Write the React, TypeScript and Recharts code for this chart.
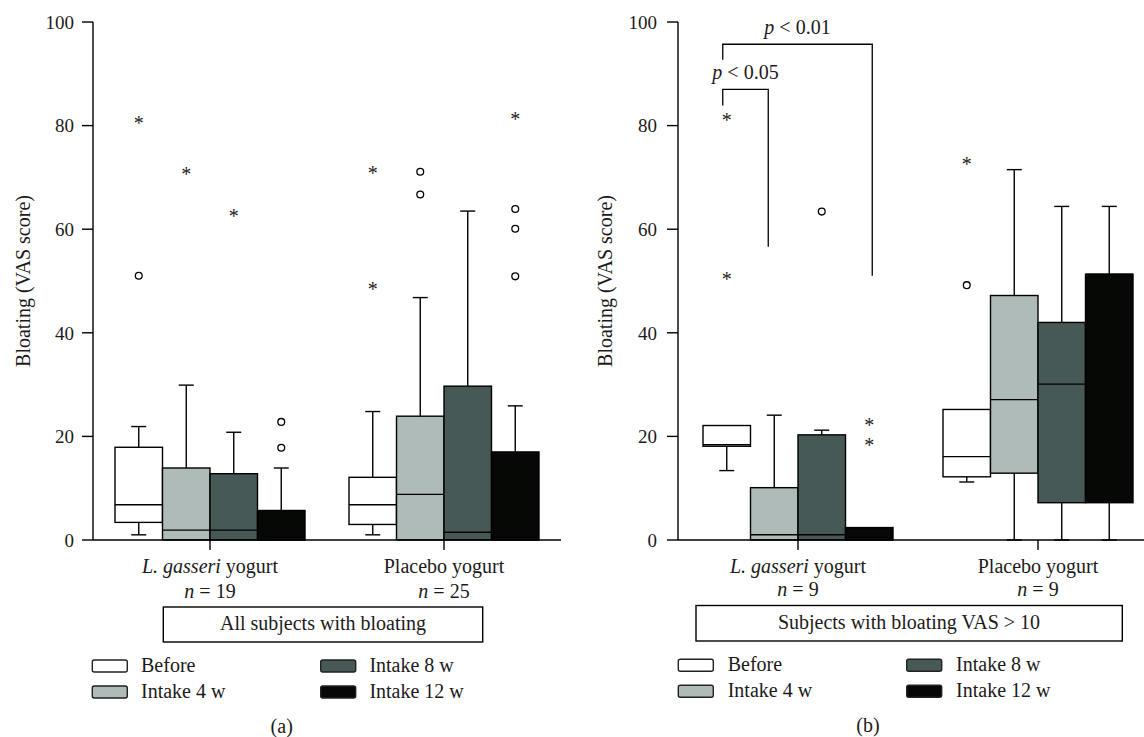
import React from "react";
import { ComposedChart, Bar, XAxis, YAxis } from "recharts";

const FONT = '"Liberation Serif", "Times New Roman", serif';
const INK = "#1c1a1a";

// series shared by both panels
const seriesNames = ["Before", "Intake 4 w", "Intake 8 w", "Intake 12 w"];
const seriesColors = ["#ffffff", "#aebbb9", "#465957", "#050805"];
const yTicks = [0, 20, 40, 60, 80, 100];

// panel (a): all subjects with bloating
const groupsA = ["L. gasseri yogurt", "Placebo yogurt"];
const countsA = [19, 25];
// [series][group] = [whisker low, Q1, median, Q3, whisker high]
const statsA = [
  [[1, 3.4, 6.8, 17.9, 21.9], [1, 3, 6.8, 12.1, 24.8]],
  [[0, 0, 1.9, 13.9, 29.9], [0, 0, 8.8, 23.9, 46.8]],
  [[0, 0, 1.9, 12.8, 20.8], [0, 0, 1.5, 29.7, 63.5]],
  [[0, 0, 0, 5.7, 13.9], [0, 0, 0, 17, 25.9]],
];
const circlesA = [
  [[51], []],
  [[], [71.1, 66.7]],
  [[], []],
  [[22.8, 17.8], [63.9, 60.1, 50.9]],
];
const starsA = [
  [[81], [71.5, 49.1]],
  [[71.3], []],
  [[63.1], []],
  [[], [81.9]],
];

// panel (b): subjects with bloating VAS > 10
const groupsB = ["L. gasseri yogurt", "Placebo yogurt"];
const countsB = [9, 9];
const statsB = [
  [[13.4, 18.1, 18.4, 22.1, 22.1], [11.2, 12.2, 16.1, 25.2, 25.2]],
  [[0, 0, 1.0, 10.1, 24.1], [0, 12.9, 27.1, 47.2, 71.5]],
  [[0, 0, 1.0, 20.3, 21.2], [0, 7.2, 30.1, 42, 64.4]],
  [[0, 0, 0, 2.4, 2.4], [0, 7.2, 51.3, 51.3, 64.4]],
];
const circlesB = [
  [[], [49.2]],
  [[], []],
  [[63.4], []],
  [[], []],
];
const starsB = [
  [[81.7, 51], [73.1]],
  [[], []],
  [[], []],
  [[22.8, 19], []],
];
// significance brackets: group, from series, to series, bar level, left/right leg ends
const bracketsB = [
  { group: 0, from: 0, to: 1, level: 87, leftEnd: 83.9, rightEnd: 56.6, label: "0.05" },
  { group: 0, from: 0, to: 3, level: 95.7, leftEnd: 92.7, rightEnd: 51, label: "0.01" },
];

type Bracket = typeof bracketsB[number];
type Panel = {
  groups: string[];
  counts: number[];
  stats: number[][][];
  circles: number[][][];
  stars: number[][][];
  brackets: Bracket[];
};

const panelA: Panel = { groups: groupsA, counts: countsA, stats: statsA, circles: circlesA, stars: starsA, brackets: [] };
const panelB: Panel = { groups: groupsB, counts: countsB, stats: statsB, circles: circlesB, stars: starsB, brackets: bracketsB };

function makeBoxShape(panel: Panel, si: number) {
  return (props: any) => {
    const { x, y, width, height, index } = props;
    const [lo, q1, med, q3, hi] = panel.stats[si][index];
    const top = Math.min(y, y + height);
    const h = Math.abs(height);
    const k = h / (hi - lo);
    const py = (v: number) => top + h - (v - lo) * k;
    const cx = x + width / 2;
    const cap = 7.5;
    const sw = 1.4;
    const brackets = panel.brackets.filter((b) => b.group === index && b.from === si);
    return (
      <g>
        {hi > q3 && (
          <g stroke="#000" strokeWidth={sw}>
            <line x1={cx} x2={cx} y1={py(q3)} y2={py(hi)} />
            <line x1={cx - cap} x2={cx + cap} y1={py(hi)} y2={py(hi)} />
          </g>
        )}
        {lo < q1 && (
          <g stroke="#000" strokeWidth={sw}>
            <line x1={cx} x2={cx} y1={py(q1)} y2={py(lo)} />
            <line x1={cx - cap} x2={cx + cap} y1={py(lo)} y2={py(lo)} />
          </g>
        )}
        <rect x={x} y={py(q3)} width={width} height={py(q1) - py(q3)} fill={seriesColors[si]} stroke="#000" strokeWidth={sw} />
        <line x1={x} x2={x + width} y1={py(med)} y2={py(med)} stroke="#000" strokeWidth={sw} />
        {panel.circles[si][index].map((v, i) => (
          <circle key={"c" + i} cx={cx} cy={py(v)} r={3.4} fill="#fff" stroke="#000" strokeWidth={1.3} />
        ))}
        {panel.stars[si][index].map((v, i) => (
          <text key={"s" + i} x={cx} y={py(v) + 10} textAnchor="middle" fontFamily={FONT} fontSize={20} fill={INK}>
            *
          </text>
        ))}
        {brackets.map((b, i) => {
          const xl = cx - 4;
          const xr = x + width * (b.to + 0.5) - (b.to === 1 ? 6 : -3);
          return (
            <g key={"b" + i}>
              <polyline
                points={`${xl},${py(b.leftEnd)} ${xl},${py(b.level)} ${xr},${py(b.level)} ${xr},${py(b.rightEnd)}`}
                fill="none"
                stroke="#000"
                strokeWidth={1.3}
              />
              <text x={(xl + xr) / 2} y={py(b.level) - 10} textAnchor="middle" fontFamily={FONT} fontSize={20} fill={INK} style={{ whiteSpace: "pre" }}>
                <tspan fontStyle="italic">p</tspan>
                <tspan>{" < " + b.label}</tspan>
              </text>
            </g>
          );
        })}
      </g>
    );
  };
}

function GroupTick(props: any) {
  const { x, y, payload, counts, secondDy } = props;
  const name: string = payload.value;
  const n = counts[payload.index];
  const italic = name.startsWith("L. gasseri") ? "L. gasseri" : "";
  const rest = name.slice(italic.length);
  return (
    <g fontFamily={FONT} fontSize={20} fill={INK} style={{ whiteSpace: "pre" }}>
      <text x={x} y={y + 23} textAnchor="middle">
        {italic && <tspan fontStyle="italic">{italic}</tspan>}
        <tspan>{rest}</tspan>
      </text>
      <text x={x} y={y + secondDy} textAnchor="middle">
        <tspan fontStyle="italic">n</tspan>
        <tspan>{" = " + n}</tspan>
      </text>
    </g>
  );
}

function BoxPanel({ panel, left, width, rightMargin, tickMargin, secondDy }: any) {
  const rows = panel.groups.map((g: string, gi: number) => {
    const row: any = { group: g };
    panel.stats.forEach((s: number[][], si: number) => {
      row["r" + si] = [s[gi][0], s[gi][4]];
    });
    return row;
  });
  return (
    <div style={{ position: "absolute", left, top: 0 }}>
      <ComposedChart
        width={width}
        height={630}
        data={rows}
        margin={{ top: 22, right: rightMargin, bottom: 0, left: 0 }}
        barGap={0}
        barSize={47.5}
      >
        <XAxis
          dataKey="group"
          height={90}
          interval={0}
          tickSize={10}
          tickMargin={0}
          axisLine={{ stroke: "#000", strokeWidth: 1.4 }}
          tickLine={{ stroke: "#000", strokeWidth: 1.4 }}
          tick={(p: any) => <GroupTick {...p} counts={panel.counts} secondDy={secondDy} />}
        />
        <YAxis
          type="number"
          domain={[0, 100]}
          ticks={yTicks}
          interval={0}
          width={93}
          tickSize={11}
          tickMargin={tickMargin}
          axisLine={{ stroke: "#000", strokeWidth: 1.4 }}
          tickLine={{ stroke: "#000", strokeWidth: 1.4 }}
          tick={{ fill: INK, fontSize: 19, fontFamily: FONT }}
        />
        {seriesNames.map((name, si) => (
          <Bar
            key={name}
            name={name}
            dataKey={"r" + si}
            fill={seriesColors[si]}
            isAnimationActive={false}
            shape={makeBoxShape(panel, si)}
          />
        ))}
      </ComposedChart>
    </div>
  );
}

function LegendBlock({ x, y, textDx }: { x: number; y: number; textDx: number }) {
  return (
    <g fontFamily={FONT} fontSize={20} fill={INK}>
      {seriesNames.map((name, i) => {
        const sx = x + Math.floor(i / 2) * 228.4;
        const sy = y + (i % 2) * 26;
        return (
          <g key={name}>
            <rect x={sx} y={sy} width={35} height={12} rx={2} fill={seriesColors[i]} stroke="#222" strokeWidth={1.4} />
            <text x={sx + textDx} y={sy + 12}>{name}</text>
          </g>
        );
      })}
    </g>
  );
}

export default function App() {
  return (
    <div style={{ position: "absolute", left: 0, top: 0, width: 1144, height: 737, overflow: "hidden", background: "#fff" }}>
      <BoxPanel panel={panelA} left={0} width={570} rightMargin={9} tickMargin={8} secondDy={48} />
      <BoxPanel panel={panelB} left={585} width={573} rightMargin={0} tickMargin={10} secondDy={46} />
      <svg width={1144} height={737} style={{ position: "absolute", left: 0, top: 0, pointerEvents: "none" }}>
        <g fontFamily={FONT} fontSize={20} fill={INK}>
          <text transform="translate(29.5,281) rotate(-90)" textAnchor="middle">Bloating (VAS score)</text>
          <text transform="translate(611.5,281) rotate(-90)" textAnchor="middle">Bloating (VAS score)</text>

          <rect x={163.3} y={607} width={319.4} height={35} fill="none" stroke="#000" strokeWidth={1.4} />
          <text x={323} y={630} textAnchor="middle">All subjects with bloating</text>
          <rect x={696} y={605.5} width={426.3} height={35.5} fill="none" stroke="#000" strokeWidth={1.4} />
          <text x={909} y={628.5} textAnchor="middle">Subjects with bloating VAS &gt; 10</text>

          <text x={281.7} y={733} textAnchor="middle">(a)</text>
          <text x={868} y={732} textAnchor="middle">(b)</text>
        </g>
        <LegendBlock x={92.3} y={660} textDx={48.7} />
        <LegendBlock x={678.3} y={659.3} textDx={49.4} />
      </svg>
    </div>
  );
}
